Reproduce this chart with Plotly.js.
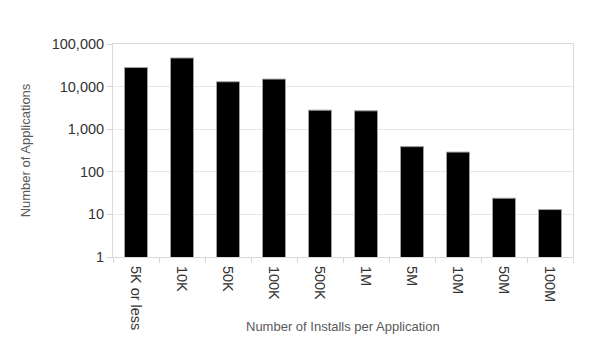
<!DOCTYPE html>
<html>
<head>
<meta charset="utf-8">
<script src="https://cdn.plot.ly/plotly-3.0.1.min.js"></script>
<style>
  body { margin: 0; background: #fff; }
  #chart { width: 598px; height: 349px; }
</style>
</head>
<body>
<div id="chart"></div>
<script>
// installs per application buckets
var installBuckets = ["5K or less", "10K", "50K", "100K", "500K", "1M", "5M", "10M", "50M", "100M"];
var appCounts = [28000, 47000, 13000, 15000, 2800, 2700, 390, 290, 24, 13];

// y axis labels
var yTickVals = [1, 10, 100, 1000, 10000, 100000];
var yTickText = ["1", "10", "100", "1,000", "10,000", "100,000"];

var trace1 = {
  x: installBuckets,
  y: appCounts,
  type: "bar",
  marker: { color: "#000000", line: { color: "#a0a0a0", width: 1 } },
  hoverinfo: "x+y"
};

var data = [trace1];
var layout = {
  width: 598,
  height: 349,
  margin: { l: 113, r: 25, t: 44, b: 92 },
  paper_bgcolor: "#ffffff",
  plot_bgcolor: "#ffffff",
  font: { family: "Liberation Sans, Arial, sans-serif", size: 14, color: "#333333" },
  bargap: 0.5,
  showlegend: false,
  xaxis: {
    tickangle: 90,
    tickson: "boundaries",
    ticks: "outside",
    ticklen: 5,
    tickcolor: "#d9d9d9",
    ticklabelstandoff: 5,
    showline: true,
    linecolor: "#d9d9d9",
    mirror: true,
    showgrid: false,
    automargin: false,
    tickfont: { size: 14.5, color: "#333333" }
  },
  yaxis: {
    title: { text: "Number of Applications", font: { size: 13, color: "#595959" }, standoff: 18 },
    type: "log",
    range: [0, 5],
    tickvals: yTickVals,
    ticktext: yTickText,
    ticks: "outside",
    ticklen: 5,
    tickcolor: "#d9d9d9",
    showline: true,
    linecolor: "#d9d9d9",
    mirror: true,
    gridcolor: "#e8e8e8",
    zeroline: false,
    automargin: false,
    tickfont: { size: 14.5, color: "#333333" }
  },
  annotations: [{
    text: "Number of Installs per Application",
    xref: "paper", yref: "paper",
    x: 0.5, y: -0.324,
    xanchor: "center", yanchor: "middle",
    showarrow: false,
    font: { size: 13, color: "#595959" }
  }]
};

Plotly.newPlot("chart", data, layout, { displayModeBar: false, staticPlot: true });
</script>
</body>
</html>
